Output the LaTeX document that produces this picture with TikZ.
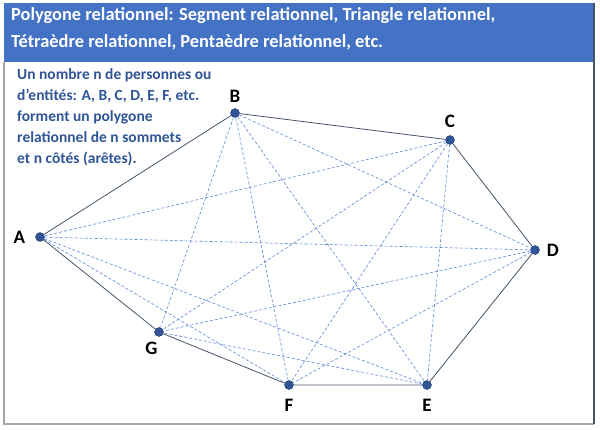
\documentclass[tikz,border=0pt]{standalone}
\usepackage{fontspec}
\setmainfont{Carlito}
\usetikzlibrary{positioning}
\definecolor{band}{HTML}{4472C4}
\definecolor{ink}{HTML}{2F5597}
\definecolor{edgecol}{HTML}{44546A}
\definecolor{chordcol}{HTML}{5B87D6}

\begin{document}
\begin{tikzpicture}[x=1pt,y=-1pt,
  vertex/.style={circle,fill=ink,draw=ink!70!black,inner sep=0pt,minimum size=9pt},
  lab/.style={font=\bfseries\fontsize{19}{19}\selectfont,inner sep=1pt},
  side/.style={draw=edgecol,line width=0.8pt},
  diag/.style={draw=chordcol,line width=0.6pt,dash pattern=on 3pt off 2pt}]
\useasboundingbox (0,0) rectangle (600,430);
% frame and title band
\fill[band] (4,3) rectangle (594,62);
\draw[gray!70,line width=1.3pt] (4,62) -- (4,424) -- (594,424);
\draw[edgecol,line width=1.3pt] (594,3) -- (594,424);
\node[anchor=north west,text=white,align=left,inner sep=0pt,
  font=\bfseries\fontsize{18.4}{27}\selectfont] (title) at (11,7)
  {Polygone relationnel: Segment relationnel, Triangle relationnel,\\
   Tétraèdre relationnel, Pentaèdre relationnel, etc.};
\node[anchor=north west,text=ink,align=left,inner sep=0pt,
  font=\bfseries\fontsize{15.5}{21}\selectfont] (intro) at (17,68)
  {Un nombre n de personnes ou\\
   d’entités: A, B, C, D, E, F, etc.\\
   forment un polygone\\
   relationnel de n sommets\\
   et n côtés (arêtes).};
% sommets
\node[vertex] (A) at (40,237) {};
\node[vertex] (B) at (235,113) {};
\node[vertex] (C) at (450,140) {};
\node[vertex] (D) at (535,250) {};
\node[vertex] (E) at (427,385) {};
\node[vertex] (F) at (289,385) {};
\node[vertex] (G) at (159,332) {};
\node[lab,left=9pt of A] {A};
\node[lab,above=5pt of B] {B};
\node[lab,above=6pt of C] {C};
\node[lab,right=6pt of D] {D};
\node[lab,below=8pt of E] {E};
\node[lab,below=8pt of F] {F};
\node[lab,below left=6pt and -3pt of G] {G};
% diagonales
\foreach \p/\q in {A/C,A/D,A/E,A/F,B/D,B/E,B/F,B/G,C/E,C/F,C/G,D/F,D/G,E/G}
  \draw[diag] (\p) -- (\q);
% côtés
\draw[side] (A) -- (B) -- (C) -- (D) -- (E) -- (F) -- (G) -- (A);
\end{tikzpicture}
\end{document}
